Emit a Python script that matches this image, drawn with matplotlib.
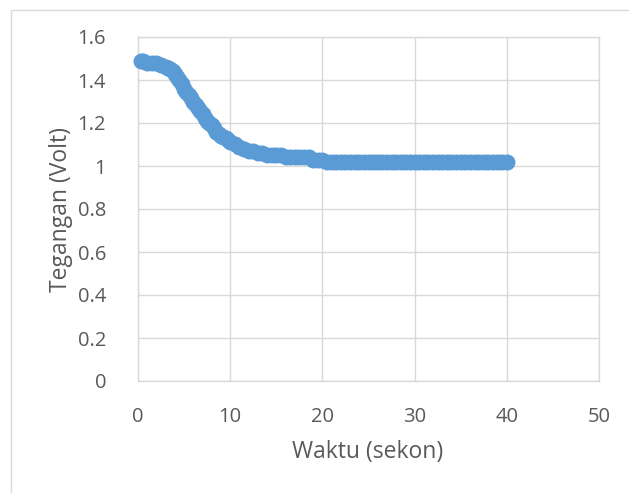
import matplotlib
matplotlib.use("Agg")
import matplotlib.pyplot as plt
from matplotlib.patches import Rectangle

waktu = [0.3, 0.5, 1.0, 1.5, 2.0, 2.5, 3.0, 3.25, 3.5, 3.75, 4.0, 4.25, 4.5, 4.75, 5.0, 5.25,
         5.5, 5.75, 6.0, 6.25, 6.5, 6.75, 7.0, 7.25, 7.5, 7.75, 8.0, 8.25, 8.5, 8.75, 9.0,
         9.25, 9.5, 9.75, 10.0, 10.5, 11.0, 11.5, 12.0, 12.5, 13.0, 13.5, 14.0, 14.5,
         15.0, 15.5, 16.0, 16.5, 17.0, 17.5, 18.0, 18.5, 19.0, 19.5, 20.0, 20.5, 21.0,
         21.5, 22.0, 22.5, 23.0, 23.5, 24.0, 24.5, 25.0, 25.5, 26.0, 26.5, 27.0, 27.5,
         28.0, 28.5, 29.0, 29.5, 30.0, 30.5, 31.0, 31.5, 32.0, 32.5, 33.0, 33.5, 34.0,
         34.5, 35.0, 35.5, 36.0, 36.5, 37.0, 37.5, 38.0, 38.5, 39.0, 39.5, 40.0]
tegangan = [1.49, 1.49, 1.48, 1.48, 1.48, 1.47, 1.46, 1.455, 1.45, 1.44, 1.43, 1.415, 1.40,
            1.38, 1.36, 1.345, 1.33, 1.315, 1.30, 1.285, 1.27, 1.255, 1.24, 1.225, 1.21,
            1.20, 1.19, 1.175, 1.16, 1.15, 1.14, 1.135, 1.13, 1.12, 1.11, 1.10, 1.09, 1.08,
            1.07, 1.07, 1.06, 1.06, 1.05, 1.05, 1.05, 1.05, 1.04, 1.04, 1.04, 1.04, 1.04,
            1.04, 1.03, 1.03, 1.03, 1.02, 1.02, 1.02, 1.02, 1.02, 1.02, 1.02, 1.02, 1.02,
            1.02, 1.02, 1.02, 1.02, 1.02, 1.02, 1.02, 1.02, 1.02, 1.02, 1.02, 1.02, 1.02,
            1.02, 1.02, 1.02, 1.02, 1.02, 1.02, 1.02, 1.02, 1.02, 1.02, 1.02, 1.02, 1.02,
            1.02, 1.02, 1.02, 1.02, 1.02]
x_ticks = [0, 10, 20, 30, 40, 50]
y_ticks = [0, 0.2, 0.4, 0.6, 0.8, 1.0, 1.2, 1.4, 1.6]
y_tick_labels = ["0", "0.2", "0.4", "0.6", "0.8", "1", "1.2", "1.4", "1.6"]

plt.rcParams['font.family'] = ['Open Sans', 'DejaVu Sans']

W, H = 629, 493
fig = plt.figure(figsize=(6.29, 4.93), dpi=100)
fig.patches.append(Rectangle((11/W, -0.1), 1.2, 1 - 10/H + 0.1, transform=fig.transFigure,
                             fill=False, edgecolor='#d9d9d9', linewidth=1))
ax = fig.add_axes([138/W, 1 - 381/H, (599-138)/W, (381-37)/H])

ax.plot(waktu, tegangan, 'o', color='#5B9BD5', markersize=11.5, markeredgewidth=0, zorder=3,
        clip_on=False)

ax.set_xlim(0, 50)
ax.set_ylim(0, 1.6)
ax.set_xticks(x_ticks)
ax.set_yticks(y_ticks)
ax.set_yticklabels(y_tick_labels)
ax.grid(True, color='#d9d9d9', linewidth=1)
ax.set_axisbelow(True)
for s in ax.spines.values():
    s.set_color('#d9d9d9')
    s.set_linewidth(1)
ax.tick_params(length=0, labelsize=14.5, colors='#595959')
ax.tick_params(axis='x', pad=19)
ax.tick_params(axis='y', pad=23)
fig.text(368/W, 1 - 452/H, "Waktu (sekon)", fontsize=16.5, color='#595959',
         ha='center', va='center')
fig.text(61/W, 1 - 209/H, "Tegangan (Volt)", fontsize=16.5, color='#595959',
         ha='center', va='center', rotation=90)

fig.savefig("out.png", dpi=100)
